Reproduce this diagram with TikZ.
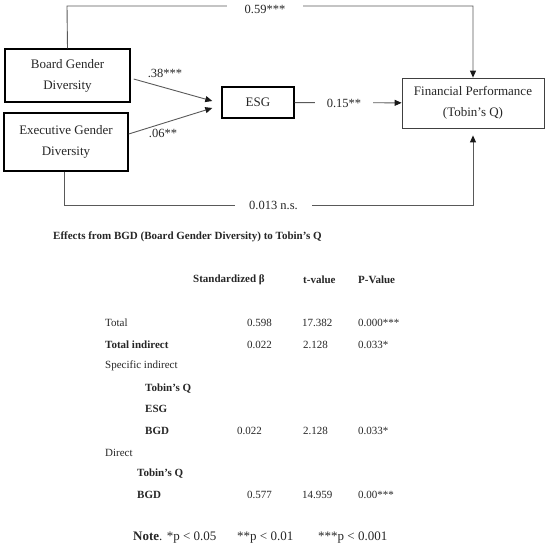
\documentclass[tikz,border=0pt]{standalone}
\usepackage{fontspec}
\setmainfont{Liberation Serif}
\usetikzlibrary{arrows.meta,calc}
\begin{document}
\begin{tikzpicture}[x=1pt,y=-1pt,
  box/.style={draw=black,line width=1.4pt,align=center,inner sep=0pt,font=\fontsize{13}{21}\selectfont,text=black!85},
  conn/.style={draw=black!65,line width=0.9pt},
  arr/.style={-{Triangle[length=7pt,width=6pt,color=black!90]}},
  lbl/.style={font=\fontsize{12.5}{14}\selectfont,fill=white,inner sep=1pt,text=black!85},
  cell/.style={anchor=west,inner sep=0pt,font=\fontsize{11}{13}\selectfont,text=black!85},
  bcell/.style={cell,font=\fontsize{11}{13}\selectfont\bfseries}]
\useasboundingbox (0,0) rectangle (547,550);
% boxes
\node[box,minimum width=125pt,minimum height=53pt] (bgd) at (67.5,75.5) {Board Gender\\Diversity};
\node[box,minimum width=124pt,minimum height=58pt] (egd) at (66,142) {Executive Gender\\Diversity};
\node[box,minimum width=72pt,minimum height=31pt] (esg) at (258,102.5) {ESG};
\node[box,line width=0.8pt,draw=black!75,minimum width=142pt,minimum height=50pt] (fp) at (473,103) {Financial Performance\\(Tobin’s Q)};
% connectors
\coordinate (tl) at (67,6);
\coordinate (bl) at (64,205);
\draw[conn,arr] (bgd.north) -- (tl) -| (fp.north);
\draw[conn,arr,shorten >=7pt] (egd.south -| bl) -- (bl) -| (fp.south);
\draw[conn,arr] (esg) -- (fp);
\draw[conn,arr] ([xshift=3pt,yshift=-3.5pt]bgd.east) -- ([xshift=-9pt,yshift=1.5pt]esg.west);
\draw[conn,arr] ([yshift=8pt]egd.east) -- ([xshift=-9pt,yshift=-5.5pt]esg.west);
% connector labels
\node[lbl,minimum width=76pt,minimum height=12pt] (l59) at (265,9.5) {0.59***};
\node[lbl,minimum width=77pt] (l013) at (273.5,205) {0.013 n.s.};
\node[lbl,minimum width=58pt] (l15) at (344,103) {0.15**};
\node[lbl,fill=none] (l38) at (165,73) {.38***};
\node[lbl,fill=none] (l06) at (163,133) {.06**};
% table
\node[bcell] (title) at (53,237) {Effects from BGD (Board Gender Diversity) to Tobin’s Q};
\node[bcell] (h1) at (193,280) {Standardized β};
\node[bcell] (h2) at (303,280) {t-value};
\node[bcell] (h3) at (358,280) {P-Value};
\node[cell] (r1) at (105,323) {Total};
\node[cell] (r1a) at (247,323) {0.598};
\node[cell] (r1b) at (302,323) {17.382};
\node[cell] (r1c) at (358,323) {0.000***};
\node[bcell] (r2) at (105,345) {Total indirect};
\node[cell] (r2a) at (247,345) {0.022};
\node[cell] (r2b) at (303,345) {2.128};
\node[cell] (r2c) at (358,345) {0.033*};
\node[cell] (r3) at (105,366) {Specific indirect};
\node[bcell] (r4) at (145,389) {Tobin’s Q};
\node[bcell] (r5) at (145,409) {ESG};
\node[bcell] (r6) at (145,431) {BGD};
\node[cell] (r6a) at (237,431) {0.022};
\node[cell] (r6b) at (303,431) {2.128};
\node[cell] (r6c) at (358,431) {0.033*};
\node[cell] (r7) at (105,453) {Direct};
\node[bcell] (r8) at (137,474) {Tobin’s Q};
\node[bcell] (r9) at (137,495) {BGD};
\node[cell] (r9a) at (247,495) {0.577};
\node[cell] (r9b) at (302,495) {14.959};
\node[cell] (r9c) at (358,495) {0.00***};
\node[cell,font=\fontsize{13}{15}\selectfont] (n1) at (133,538) {\textbf{Note}. *p < 0.05};
\node[cell,font=\fontsize{13}{15}\selectfont] (n2) at (237,538) {**p < 0.01};
\node[cell,font=\fontsize{13}{15}\selectfont] (n3) at (318,538) {***p < 0.001};
\end{tikzpicture}
\end{document}
